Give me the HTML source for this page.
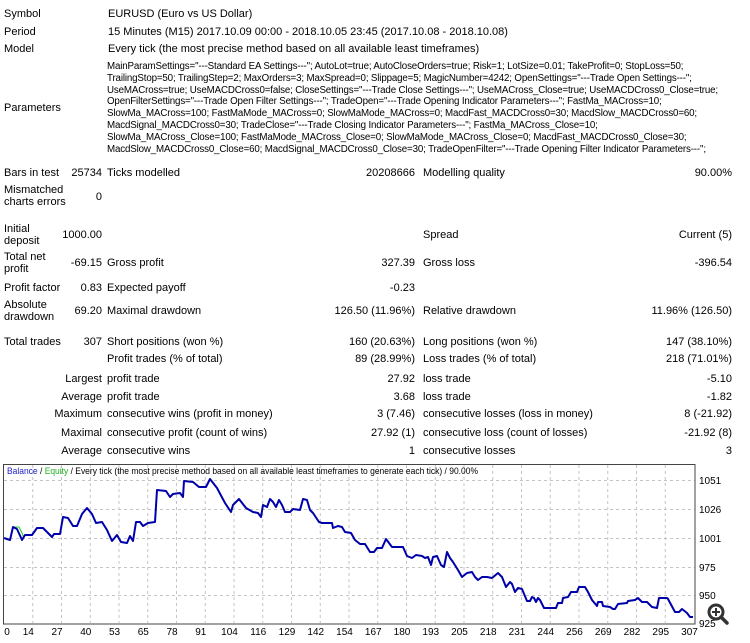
<!DOCTYPE html>
<html><head><meta charset="utf-8"><style>
body{margin:0;width:750px;height:643px;background:#fff;overflow:hidden;font-family:"Liberation Sans",sans-serif;font-size:11px;color:#000;position:relative}
.t{position:absolute;white-space:nowrap;line-height:12px}
.r{text-align:right}
.p{font-size:9.75px;letter-spacing:-0.15px}
</style></head><body>
<div class="t" style="left:4px;top:8px">Symbol</div>
<div class="t" style="left:108px;top:8px">EURUSD (Euro vs US Dollar)</div>
<div class="t" style="left:4px;top:26px">Period</div>
<div class="t" style="left:108px;top:26px">15 Minutes (M15) 2017.10.09 00:00 - 2018.10.05 23:45 (2017.10.08 - 2018.10.08)</div>
<div class="t" style="left:4px;top:43px">Model</div>
<div class="t" style="left:108px;top:43px">Every tick (the most precise method based on all available least timeframes)</div>
<div class="t" style="left:4px;top:102px">Parameters</div>
<div class="t p" style="left:107px;top:61px;line-height:11.8px">MainParamSettings="---Standard EA Settings---"; AutoLot=true; AutoCloseOrders=true; Risk=1; LotSize=0.01; TakeProfit=0; StopLoss=50;<br>TrailingStop=50; TrailingStep=2; MaxOrders=3; MaxSpread=0; Slippage=5; MagicNumber=4242; OpenSettings="---Trade Open Settings---";<br>UseMACross=true; UseMACDCross0=false; CloseSettings="---Trade Close Settings---"; UseMACross_Close=true; UseMACDCross0_Close=true;<br>OpenFilterSettings="---Trade Open Filter Settings---"; TradeOpen="---Trade Opening Indicator Parameters---"; FastMa_MACross=10;<br>SlowMa_MACross=100; FastMaMode_MACross=0; SlowMaMode_MACross=0; MacdFast_MACDCross0=30; MacdSlow_MACDCross0=60;<br>MacdSignal_MACDCross0=30; TradeClose="---Trade Closing Indicator Parameters---"; FastMa_MACross_Close=10;<br>SlowMa_MACross_Close=100; FastMaMode_MACross_Close=0; SlowMaMode_MACross_Close=0; MacdFast_MACDCross0_Close=30;<br>MacdSlow_MACDCross0_Close=60; MacdSignal_MACDCross0_Close=30; TradeOpenFilter="---Trade Opening Filter Indicator Parameters---";</div>

<div class="t" style="left:4px;top:167px">Bars in test</div>
<div class="t r" style="right:648px;top:167px">25734</div>
<div class="t" style="left:107px;top:167px">Ticks modelled</div>
<div class="t r" style="right:335px;top:167px">20208666</div>
<div class="t" style="left:423px;top:167px">Modelling quality</div>
<div class="t r" style="right:18px;top:167px">90.00%</div>

<div class="t" style="left:4px;top:184px">Mismatched<br>charts errors</div>
<div class="t r" style="right:648px;top:191px">0</div>

<div class="t" style="left:4px;top:223px">Initial<br>deposit</div>
<div class="t r" style="right:648px;top:229px">1000.00</div>
<div class="t" style="left:423px;top:229px">Spread</div>
<div class="t r" style="right:18px;top:229px">Current (5)</div>

<div class="t" style="left:4px;top:251px">Total net<br>profit</div>
<div class="t r" style="right:648px;top:257px">-69.15</div>
<div class="t" style="left:107px;top:257px">Gross profit</div>
<div class="t r" style="right:335px;top:257px">327.39</div>
<div class="t" style="left:423px;top:257px">Gross loss</div>
<div class="t r" style="right:18px;top:257px">-396.54</div>

<div class="t" style="left:4px;top:282px">Profit factor</div>
<div class="t r" style="right:648px;top:282px">0.83</div>
<div class="t" style="left:107px;top:282px">Expected payoff</div>
<div class="t r" style="right:335px;top:282px">-0.23</div>

<div class="t" style="left:4px;top:299px">Absolute<br>drawdown</div>
<div class="t r" style="right:648px;top:305px">69.20</div>
<div class="t" style="left:107px;top:305px">Maximal drawdown</div>
<div class="t r" style="right:335px;top:305px">126.50 (11.96%)</div>
<div class="t" style="left:423px;top:305px">Relative drawdown</div>
<div class="t r" style="right:18px;top:305px">11.96% (126.50)</div>

<div class="t" style="left:4px;top:336px">Total trades</div>
<div class="t r" style="right:648px;top:336px">307</div>
<div class="t" style="left:107px;top:336px">Short positions (won %)</div>
<div class="t r" style="right:335px;top:336px">160 (20.63%)</div>
<div class="t" style="left:423px;top:336px">Long positions (won %)</div>
<div class="t r" style="right:18px;top:336px">147 (38.10%)</div>

<div class="t" style="left:107px;top:353px">Profit trades (% of total)</div>
<div class="t r" style="right:335px;top:353px">89 (28.99%)</div>
<div class="t" style="left:423px;top:353px">Loss trades (% of total)</div>
<div class="t r" style="right:18px;top:353px">218 (71.01%)</div>

<div class="t r" style="right:648px;top:373px">Largest</div>
<div class="t" style="left:107px;top:373px">profit trade</div>
<div class="t r" style="right:335px;top:373px">27.92</div>
<div class="t" style="left:423px;top:373px">loss trade</div>
<div class="t r" style="right:18px;top:373px">-5.10</div>

<div class="t r" style="right:648px;top:391px">Average</div>
<div class="t" style="left:107px;top:391px">profit trade</div>
<div class="t r" style="right:335px;top:391px">3.68</div>
<div class="t" style="left:423px;top:391px">loss trade</div>
<div class="t r" style="right:18px;top:391px">-1.82</div>

<div class="t r" style="right:648px;top:408px">Maximum</div>
<div class="t" style="left:107px;top:408px">consecutive wins (profit in money)</div>
<div class="t r" style="right:335px;top:408px">3 (7.46)</div>
<div class="t" style="left:423px;top:408px">consecutive losses (loss in money)</div>
<div class="t r" style="right:18px;top:408px">8 (-21.92)</div>

<div class="t r" style="right:648px;top:427px">Maximal</div>
<div class="t" style="left:107px;top:427px">consecutive profit (count of wins)</div>
<div class="t r" style="right:335px;top:427px">27.92 (1)</div>
<div class="t" style="left:423px;top:427px">consecutive loss (count of losses)</div>
<div class="t r" style="right:18px;top:427px">-21.92 (8)</div>

<div class="t r" style="right:648px;top:445px">Average</div>
<div class="t" style="left:107px;top:445px">consecutive wins</div>
<div class="t r" style="right:335px;top:445px">1</div>
<div class="t" style="left:423px;top:445px">consecutive losses</div>
<div class="t r" style="right:18px;top:445px">3</div>

<svg style="position:absolute;left:0;top:0" width="750" height="643" font-family="Liberation Sans, sans-serif" font-size="10">
<g stroke="#c4c4c4" stroke-dasharray="3,3" stroke-width="1">
<line x1="4" x2="695" y1="480.5" y2="480.5"/><line x1="4" x2="695" y1="509.5" y2="509.5"/><line x1="4" x2="695" y1="538.5" y2="538.5"/><line x1="4" x2="695" y1="567.5" y2="567.5"/><line x1="4" x2="695" y1="595.5" y2="595.5"/>
<g id="vg"></g>
</g>
<rect x="3.5" y="464.5" width="691.5" height="159.5" fill="none" stroke="#444" stroke-width="1"/>
<polyline id="eq" fill="none" stroke="#22cc22" stroke-width="1" points="14,527 19,527 22,533 24,538"/>
<polyline id="bal" fill="none" stroke="#0000aa" stroke-width="2" stroke-linejoin="round"/>
<g id="xl" fill="#000"></g>
<g fill="#000">
<text x="699" y="484">1051</text><text x="699" y="513">1026</text><text x="699" y="542">1001</text><text x="699" y="571">975</text><text x="699" y="599">950</text><text x="699" y="627">925</text>
</g>
<text x="7" y="474" fill="#000" font-size="9.5" textLength="471" lengthAdjust="spacingAndGlyphs"><tspan fill="#2020c0">Balance</tspan> / <tspan fill="#20b020">Equity</tspan> / Every tick (the most precise method based on all available least timeframes to generate each tick) / 90.00%</text>
<circle cx="716" cy="612" r="7" fill="none" stroke="#333" stroke-width="3"/>
<line x1="721" y1="617" x2="727" y2="623" stroke="#333" stroke-width="3.5" stroke-linecap="round"/>
<path d="M716 608v8M712 612h8" stroke="#333" stroke-width="2"/>
</svg>
<script>
var pts=[[4,538],[10,540],[13,527],[17,529],[22,540],[25,535],[32,535],[37,528],[43,528],[49,534],[52,537],[54,534],[60,534],[63,517],[68,518],[73,526],[77,526],[82,514],[87,508],[92,514],[96,523],[102,522],[107,530],[112,541],[117,535],[121,542],[127,543],[130,536],[133,541],[136,522],[140,522],[143,526],[148,523],[155,522],[157,490],[166,491],[170,497],[173,494],[180,493],[183,497],[184,481],[193,482],[199,487],[206,487],[210,479],[217,488],[225,503],[231,512],[233,505],[239,499],[246,508],[253,512],[258,513],[261,517],[263,505],[267,507],[270,499],[273,502],[276,507],[279,500],[282,505],[285,512],[290,512],[293,509],[300,510],[303,499],[307,500],[310,510],[313,513],[319,522],[322,523],[327,523],[332,523],[333,528],[338,526],[342,527],[345,532],[351,533],[355,540],[360,544],[365,544],[370,552],[374,552],[377,548],[382,548],[386,539],[389,543],[392,547],[398,547],[403,547],[407,556],[412,558],[416,555],[422,556],[425,558],[428,557],[431,565],[433,557],[437,556],[441,565],[444,567],[447,552],[450,558],[453,562],[458,570],[462,577],[467,573],[472,572],[475,577],[478,580],[482,577],[487,577],[492,578],[498,573],[502,577],[506,587],[510,582],[512,584],[515,592],[518,588],[522,589],[527,601],[530,601],[532,597],[534,598],[536,602],[538,598],[540,600],[544,608],[550,608],[556,608],[558,603],[562,603],[563,598],[568,597],[571,592],[577,592],[579,587],[585,587],[588,592],[592,600],[597,606],[598,602],[602,602],[603,606],[610,607],[613,609],[615,609],[618,604],[627,603],[628,601],[635,600],[638,598],[642,602],[647,602],[652,607],[657,608],[659,598],[667,598],[668,599],[675,612],[679,612],[682,609],[687,613],[690,617],[693,617]];
document.getElementById('bal').setAttribute('points',pts.map(p=>p.join(',')).join(' '));
var labs=[0,14,27,40,53,65,78,91,104,116,129,142,154,167,180,193,205,218,231,244,256,269,282,295,307];
var vg='',xl='';
for(var k=0;k<labs.length;k++){var gx=3.5+k*28.75;
 if(k>0&&k<24) vg+='<line x1="'+(gx+0.5)+'" x2="'+(gx+0.5)+'" y1="465" y2="623"/>';
 xl+='<text x="'+(k==0?7:gx-4)+'" y="635" text-anchor="middle">'+labs[k]+'</text>';}
document.getElementById('vg').innerHTML=vg;document.getElementById('xl').innerHTML=xl;
</script>
</body></html>
